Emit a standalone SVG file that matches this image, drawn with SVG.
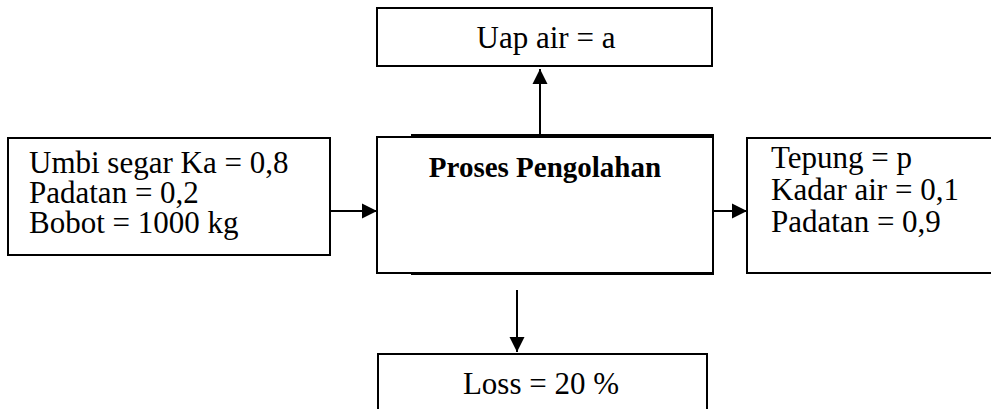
<svg xmlns="http://www.w3.org/2000/svg" width="991" height="409" viewBox="0 0 991 409">
<style>
  .box { fill: #ffffff; stroke: #000000; stroke-width: 2; }
  .t { font-family: "Liberation Serif", "Times New Roman", serif; font-size: 31px; fill: #000000; }
  .b { font-weight: bold; font-size: 29px; }
  .c { text-anchor: middle; }
  .conn { stroke: #000000; stroke-width: 2; fill: none; marker-end: url(#arr); }
</style>
<defs>
  <marker id="arr" markerUnits="userSpaceOnUse" markerWidth="16" markerHeight="16" viewBox="0 0 16 16" refX="15" refY="8" orient="auto">
    <path d="M0,0.5 L15,8 L0,15.5 Z" fill="#000000"/>
  </marker>
</defs>
<rect width="991" height="409" fill="#ffffff"/>

<g id="uap-air">
  <rect class="box" x="377" y="8" width="335" height="58"/>
  <text class="t c" x="546" y="48">Uap air = a</text>
</g>

<g id="umbi-segar">
  <rect class="box" x="8" y="138" width="322" height="117"/>
  <text class="t" x="29" y="173">Umbi segar Ka = 0,8</text>
  <text class="t" x="29" y="203">Padatan = 0,2</text>
  <text class="t" x="29" y="233">Bobot = 1000 kg</text>
</g>

<g id="proses-pengolahan">
  <rect class="box" x="412" y="135" width="301" height="139"/>
  <rect class="box" x="377" y="137" width="336" height="136"/>
  <text class="t b c" x="545" y="177">Proses Pengolahan</text>
</g>

<g id="tepung">
  <rect class="box" x="747" y="138" width="260" height="135"/>
  <text class="t" x="771" y="168">Tepung = p</text>
  <text class="t" x="771" y="200">Kadar air = 0,1</text>
  <text class="t" x="771" y="232">Padatan = 0,9</text>
</g>

<g id="loss">
  <rect class="box" x="378" y="354" width="329" height="70"/>
  <text class="t c" x="541" y="394">Loss = 20 %</text>
</g>

<g id="connectors">
  <line class="conn" x1="540" y1="135" x2="540" y2="69"/>
  <line class="conn" x1="330" y1="211" x2="377" y2="211"/>
  <line class="conn" x1="713" y1="211" x2="747" y2="211"/>
  <line class="conn" x1="517" y1="290" x2="517" y2="352"/>
</g>
</svg>
